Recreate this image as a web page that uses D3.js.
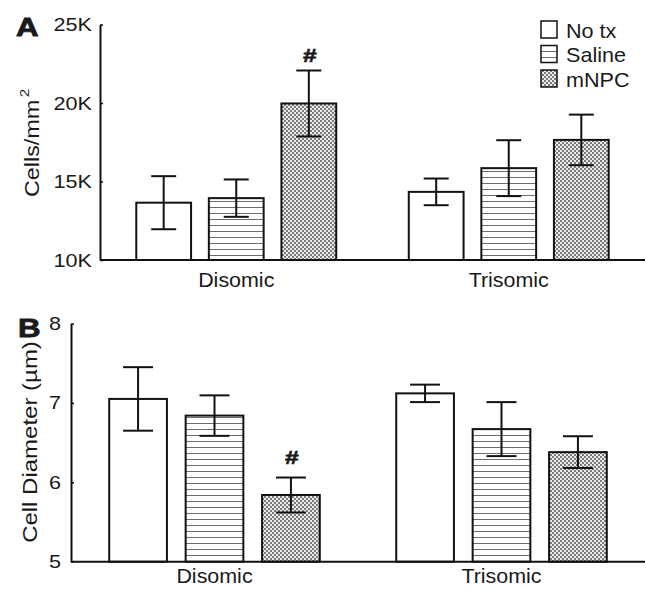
<!DOCTYPE html>
<html>
<head>
<meta charset="utf-8">
<script src="https://cdn.jsdelivr.net/npm/d3@7"></script>
<style>
  body { margin: 0; background: #fff; }
  text { font-family: "Liberation Sans", Arial, sans-serif; fill: #1a1a1a; }
</style>
</head>
<body>
<div id="chart"></div>
<script>
// data
var groups = ["Disomic", "Trisomic"];
var treatments = ["No tx", "Saline", "mNPC"];

var densityMean = [[13650, 13940, 19970], [14340, 15850, 17650]];
var densityErr  = [[1690, 1190, 2100], [850, 1780, 1610]];
var densityTicks = [10000, 15000, 20000, 25000];
var densityTickLabels = ["10K", "15K", "20K", "25K"];

var diamMean = [[7.05, 6.84, 5.84], [7.12, 6.67, 6.38]];
var diamErr  = [[0.40, 0.255, 0.22], [0.11, 0.34, 0.20]];
var diamTicks = [5, 6, 7, 8];
var diamTickLabels = ["5", "6", "7", "8"];

var sigMarks = [["Disomic", "mNPC"]];

var W = 646, H = 591;
var svg = d3.select("#chart").append("svg")
    .attr("width", W)
    .attr("height", H);

var defs = svg.append("defs");

// horizontal lines fill (Saline)
var pl = defs.append("pattern")
    .attr("id", "hlines")
    .attr("patternUnits", "userSpaceOnUse")
    .attr("width", 6).attr("height", 6);
pl.append("rect").attr("width", 6).attr("height", 6).attr("fill", "#fff");
pl.append("line").attr("x1", 0).attr("x2", 6).attr("y1", 3.5).attr("y2", 3.5)
    .attr("stroke", "#6e6e6e").attr("stroke-width", 1);

// fine checker fill (mNPC)
var pc = defs.append("pattern")
    .attr("id", "checker")
    .attr("patternUnits", "userSpaceOnUse")
    .attr("width", 4).attr("height", 4);
pc.append("rect").attr("width", 4).attr("height", 4).attr("fill", "#ececec");
pc.append("rect").attr("x", 0).attr("y", 0).attr("width", 2).attr("height", 2).attr("fill", "#7a7a7a");
pc.append("rect").attr("x", 2).attr("y", 2).attr("width", 2).attr("height", 2).attr("fill", "#7a7a7a");

var fills = { "No tx": "#fff", "Saline": "url(#hlines)", "mNPC": "url(#checker)" };

// text that is a bit wider than the font, like the original figure
function label(g, str, x, y, size, sx, anchor, rot, bold) {
    var t = g.append("text")
        .attr("transform", "translate(" + x + "," + y + ") rotate(" + (rot || 0) + ") scale(" + sx + ",1)")
        .attr("font-size", size + "px")
        .attr("text-anchor", anchor || "start")
        .text(str);
    if (bold) t.attr("font-weight", "bold");
    return t;
}

function panel(opt) {
    var g = svg.append("g");

    var x0 = d3.scaleBand()
        .domain(groups)
        .range([opt.left, opt.right]);

    var x1 = d3.scaleBand()
        .domain(treatments)
        .range([0, x0.bandwidth()])
        .paddingInner(0.245)
        .paddingOuter(0.5);

    var y = d3.scaleLinear()
        .domain(opt.domain)
        .range([opt.bottom, opt.top]);

    var rows = [];
    groups.forEach(function(gr, i) {
        treatments.forEach(function(tr, j) {
            rows.push({ group: gr, tr: tr, mean: opt.mean[i][j], err: opt.err[i][j] });
        });
    });

    // bars
    g.selectAll("rect.bar")
        .data(rows)
        .enter().append("rect")
        .attr("class", "bar")
        .attr("x", function(d) { return x0(d.group) + x1(d.tr); })
        .attr("y", function(d) { return y(d.mean); })
        .attr("width", x1.bandwidth())
        .attr("height", function(d) { return y(opt.domain[0]) - y(d.mean); })
        .attr("fill", function(d) { return fills[d.tr]; })
        .attr("stroke", "#111")
        .attr("stroke-width", 2);

    // error bars
    var eb = g.selectAll("g.err")
        .data(rows)
        .enter().append("g")
        .attr("class", "err")
        .attr("transform", function(d) {
            return "translate(" + (x0(d.group) + x1(d.tr) + x1.bandwidth() / 2) + ",0)";
        });
    eb.append("line")
        .attr("y1", function(d) { return y(d.mean + d.err); })
        .attr("y2", function(d) { return y(d.mean - d.err); })
        .attr("stroke", "#111").attr("stroke-width", 2);
    eb.append("line")
        .attr("x1", -opt.cap).attr("x2", opt.cap)
        .attr("y1", function(d) { return y(d.mean + d.err); })
        .attr("y2", function(d) { return y(d.mean + d.err); })
        .attr("stroke", "#111").attr("stroke-width", 2);
    eb.append("line")
        .attr("x1", -opt.cap).attr("x2", opt.cap)
        .attr("y1", function(d) { return y(d.mean - d.err); })
        .attr("y2", function(d) { return y(d.mean - d.err); })
        .attr("stroke", "#111").attr("stroke-width", 2);

    // significance marks
    rows.forEach(function(d) {
        sigMarks.forEach(function(m) {
            if (m[0] == d.group && m[1] == d.tr) {
                label(g, "#", x0(d.group) + x1(d.tr) + x1.bandwidth() / 2 + 1,
                    y(d.mean + d.err) - opt.sigGap, 19, 1.3, "middle", 0, true)
                    .attr("stroke", "#1a1a1a").attr("stroke-width", 0.6);
            }
        });
    });

    // y axis
    var yAxis = d3.axisLeft(y)
        .tickValues(opt.ticks)
        .tickFormat(function(d, i) { return opt.tickLabels[i]; })
        .tickSizeInner(-3)
        .tickSizeOuter(0);
    var ya = g.append("g")
        .attr("transform", "translate(" + opt.left + ",0)")
        .call(yAxis);
    ya.select(".domain").attr("stroke", "#111").attr("stroke-width", 2);
    ya.selectAll(".tick line").attr("stroke", "#111").attr("stroke-width", 1.5);
    ya.selectAll(".tick text").remove();
    opt.ticks.forEach(function(v, i) {
        label(g, opt.tickLabels[i], opt.left - opt.tickPad, y(v) + 6.5, 18, 1.2, "end");
    });

    // x axis line
    g.append("line")
        .attr("x1", opt.left).attr("x2", opt.right)
        .attr("y1", y(opt.domain[0])).attr("y2", y(opt.domain[0]))
        .attr("stroke", "#111").attr("stroke-width", 2);

    groups.forEach(function(gr) {
        label(g, gr, x0(gr) + x0.bandwidth() / 2, opt.bottom + opt.catGap, 19.5, 1.1, "middle");
    });

    // panel letter
    label(g, opt.letter, opt.letterX, opt.letterY, 25, 1.25, "start", 0, true)
        .attr("stroke", "#1a1a1a").attr("stroke-width", 0.8);

    return g;
}

var gA = panel({
    left: 100, right: 645, top: 24.5, bottom: 260,
    domain: [10000, 25000], ticks: densityTicks, tickLabels: densityTickLabels,
    mean: densityMean, err: densityErr, cap: 12.5, sigGap: 9, tickPad: 8, catGap: 27,
    letter: "A", letterX: 16, letterY: 36
});
var tA = label(gA, "Cells/mm", 39, 143, 20, 1.17, "middle", -90);
tA.append("tspan").attr("font-size", "13px").attr("dy", -10).attr("dx", 2).text("2");

var gB = panel({
    left: 71, right: 645, top: 323.5, bottom: 561.7,
    domain: [5, 8], ticks: diamTicks, tickLabels: diamTickLabels,
    mean: diamMean, err: diamErr, cap: 15, sigGap: 14, tickPad: 10, catGap: 21.5,
    letter: "B", letterX: 18, letterY: 337
});
label(gB, "Cell Diameter (\u00b5m)", 37, 442, 20, 1.2, "middle", -90);

// legend
var leg = svg.append("g");
treatments.forEach(function(tr, i) {
    var yy = 21 + i * 24.5;
    leg.append("rect")
        .attr("x", 541).attr("y", yy)
        .attr("width", 16).attr("height", 17)
        .attr("fill", fills[tr])
        .attr("stroke", "#111").attr("stroke-width", 1.5);
    label(leg, tr, 566, yy + 16.5, 20, 1.08, "start");
});
</script>
</body>
</html>
